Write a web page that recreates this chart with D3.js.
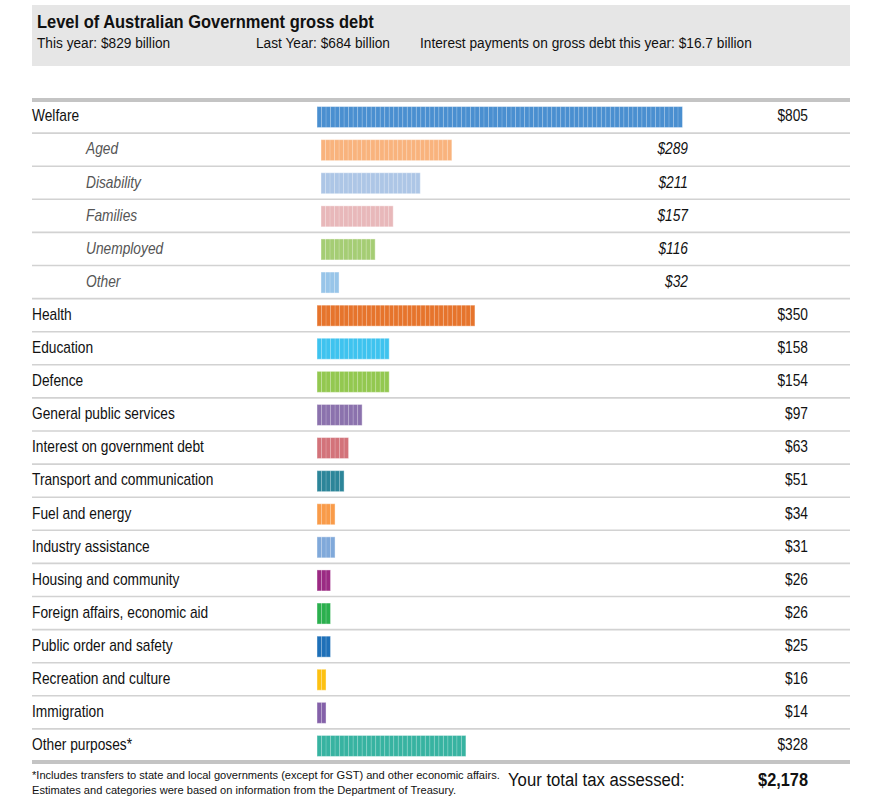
<!DOCTYPE html>
<html>
<head>
<meta charset="utf-8">
<script src="https://cdn.jsdelivr.net/npm/d3@7"></script>
<style>
  html, body { margin: 0; padding: 0; background: #fff; }
  svg text { font-family: "Liberation Sans", Arial, sans-serif; }
</style>
</head>
<body>
<svg id="chart" width="880" height="811"></svg>
<script>
// ---- data ----
const title = "Level of Australian Government gross debt";
const subtitles = ["This year: $829 billion", "Last Year: $684 billion", "Interest payments on gross debt this year: $16.7 billion"];
const categories = ["Welfare", "Aged", "Disability", "Families", "Unemployed", "Other",
  "Health", "Education", "Defence", "General public services", "Interest on government debt",
  "Transport and communication", "Fuel and energy", "Industry assistance", "Housing and community",
  "Foreign affairs, economic aid", "Public order and safety", "Recreation and culture", "Immigration",
  "Other purposes*"];
const values = [805, 289, 211, 157, 116, 32, 350, 158, 154, 97, 63, 51, 34, 31, 26, 26, 25, 16, 14, 328];
const isSub = [false, true, true, true, true, true, false, false, false, false, false, false, false, false, false, false, false, false, false, false];
const colors = ["#4a8fd0", "#f9b37d", "#adc6e6", "#e8b8ba", "#a5cd74", "#98c5e9",
  "#e6742c", "#3ec3ef", "#93c850", "#8b72ad", "#d3737a", "#2c8599", "#f99b49", "#80a9da",
  "#9b2a83", "#2bb04e", "#1e70b8", "#fdc112", "#8461a9", "#37b3a1"];
const segmentUnit = 10;
const footnotes = ["*Includes transfers to state and local governments (except for GST) and other economic affairs.",
  "Estimates and categories were based on information from the Department of Treasury."];
const totalLabel = "Your total tax assessed:";
const totalValue = "$2,178";

// ---- layout ----
const svg = d3.select("#chart");
const leftX = 32, rightX = 850;
const topY = 100, rowH = 33.1;

// condensed text helper (horizontal squeeze to mimic a narrow face)
function txt(px, py, str, opts) {
  const o = Object.assign({ size: 16, sx: 0.86, weight: "normal", style: "normal", anchor: "start", fill: "#111", dy: null }, opts || {});
  const t = svg.append("text")
    .attr("transform", `translate(${px},${py}) scale(${o.sx},1)`)
    .attr("x", 0).attr("y", 0)
    .attr("font-size", o.size).attr("font-weight", o.weight).attr("font-style", o.style)
    .attr("text-anchor", o.anchor).attr("fill", o.fill).text(str);
  if (o.dy) t.attr("dy", o.dy);
  return t;
}

// header
svg.append("rect").attr("x", leftX).attr("y", 5).attr("width", rightX - leftX).attr("height", 61).attr("fill", "#e6e6e6");
txt(37, 28, title, { size: 18.5, sx: 0.89, weight: "bold" });
const subX = [37, 256, 420];
subtitles.forEach((s, i) => txt(subX[i], 47.5, s, { size: 14.5, sx: 0.945 }));

const y = d3.scaleBand().domain(d3.range(categories.length)).range([topY, topY + rowH * categories.length]).paddingInner(0).paddingOuter(0);
const x = d3.scaleLinear().domain([0, 800]).range([0, 361]);

// separators
d3.range(1, categories.length).forEach(i => {
  svg.append("line").attr("x1", leftX).attr("x2", rightX).attr("y1", y(i)).attr("y2", y(i))
    .attr("stroke", "#d2d2d2").attr("stroke-width", 1.6);
});
svg.append("line").attr("x1", leftX).attr("x2", rightX).attr("y1", topY).attr("y2", topY).attr("stroke", "#c4c4c4").attr("stroke-width", 4);
const bottomY = topY + rowH * categories.length;
svg.append("line").attr("x1", leftX).attr("x2", rightX).attr("y1", bottomY).attr("y2", bottomY).attr("stroke", "#c4c4c4").attr("stroke-width", 4);

// rows
const barH = 21;
categories.forEach((c, i) => {
  const cy = y(i) + y.bandwidth() / 2 + 0.5;
  const sub = isSub[i];
  txt(sub ? 86 : 32, cy - 1.5, c, { size: 16, sx: 0.86, style: sub ? "italic" : "normal", fill: sub ? "#555" : "#111", dy: "0.36em" });
  const x0 = sub ? 321 : 317;
  const nSeg = Math.ceil(values[i] / segmentUnit);
  const g = svg.append("g").attr("transform", `translate(${x0},${cy - barH / 2})`);
  g.selectAll("rect.seg").data(d3.range(nSeg)).join("rect").attr("class", "seg")
    .attr("x", k => x(k * segmentUnit)).attr("y", 0)
    .attr("width", x(segmentUnit)).attr("height", barH)
    .attr("fill", colors[i]);
  g.selectAll("line.div").data(d3.range(1, nSeg)).join("line").attr("class", "div")
    .attr("x1", k => x(k * segmentUnit)).attr("x2", k => x(k * segmentUnit))
    .attr("y1", 0).attr("y2", barH).attr("stroke", "#fff").attr("stroke-opacity", 0.28).attr("stroke-width", 0.8);
  g.append("rect").attr("x", 0).attr("y", 0).attr("width", x(nSeg * segmentUnit)).attr("height", barH)
    .attr("fill", "none").attr("stroke", "#fff").attr("stroke-opacity", 0.4).attr("stroke-width", 1);
  txt(sub ? 688 : 808, cy - 1.5, "$" + values[i], { size: 16, sx: 0.86, style: sub ? "italic" : "normal", anchor: "end", dy: "0.36em" });
});

// footer
footnotes.forEach((f, i) => txt(32, 778.5 + i * 15.5, f, { size: 11.5, sx: 0.965 }));
txt(508, 786, totalLabel, { size: 19, sx: 0.88 });
txt(808, 786, totalValue, { size: 19, sx: 0.86, weight: "bold", anchor: "end" });
</script>
</body>
</html>
